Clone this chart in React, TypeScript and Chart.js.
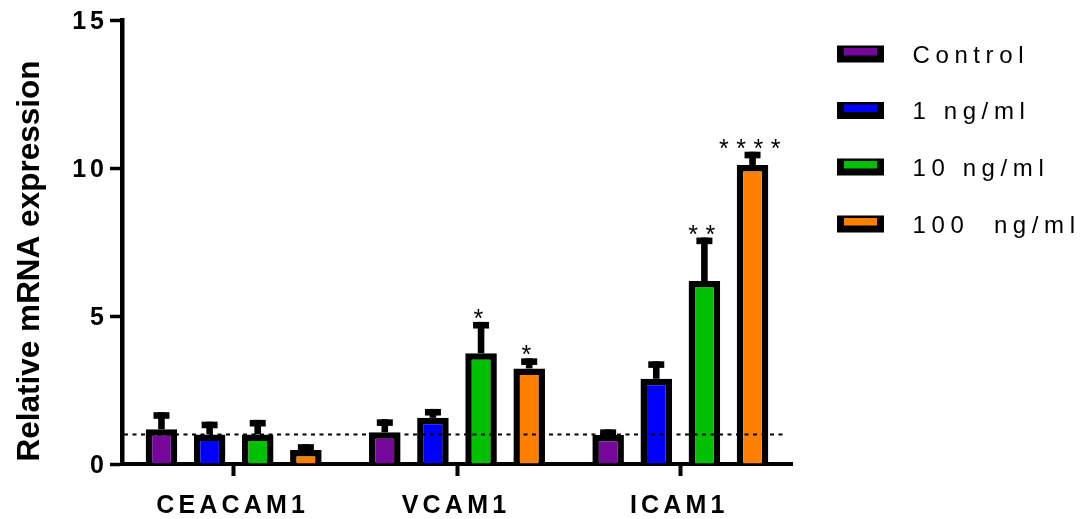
import React, { useEffect, useRef } from "react";
import { Chart, registerables } from "chart.js";

Chart.register(...registerables);

// ---- data ----
const categories = ["CEACAM1", "VCAM1", "ICAM1"];
const seriesNames = ["Control", "1 ng/ml", "10 ng/ml", "100  ng/ml"];
const seriesColors = ["#75079A", "#0000FF", "#00C000", "#FF8000"];

const controlValues = [1.17, 1.07, 0.98];
const ng1Values = [1.0, 1.56, 2.88];
const ng10Values = [1.0, 3.74, 6.18];
const ng100Values = [0.47, 3.23, 10.1];

const controlErrors = [0.58, 0.44, 0.19];
const ng1Errors = [0.43, 0.3, 0.59];
const ng10Errors = [0.49, 1.06, 1.47];
const ng100Errors = [0.2, 0.34, 0.45];

const controlStars = ["", "", ""];
const ng1Stars = ["", "", ""];
const ng10Stars = ["", "*", "**"];
const ng100Stars = ["", "*", "****"];

const yMin = 0;
const yMax = 15;
const yStep = 5;
const referenceLevel = 1;
const yTitle = "Relative mRNA expression";

const seriesValues = [controlValues, ng1Values, ng10Values, ng100Values];
const seriesErrors = [controlErrors, ng1Errors, ng10Errors, ng100Errors];
const seriesStars = [controlStars, ng1Stars, ng10Stars, ng100Stars];

const FONT = '"Liberation Sans", Arial, sans-serif';

const overlayPlugin = {
  id: "overlay",
  afterDatasetsDraw(chart: any) {
    const ctx = chart.ctx as CanvasRenderingContext2D;
    const yScale = chart.scales.y;
    const area = chart.chartArea;
    // error bars
    ctx.save();
    ctx.fillStyle = "#000";
    seriesValues.forEach((vals, i) => {
      const meta = chart.getDatasetMeta(i);
      vals.forEach((v, j) => {
        const bar = meta.data[j];
        if (!bar) return;
        const top = yScale.getPixelForValue(v + seriesErrors[i][j]);
        const barTop = bar.y;
        ctx.fillRect(bar.x - 3.3, top, 6.6, Math.max(0, barTop - top));
        ctx.fillRect(bar.x - 8, top, 16, 6.6);
      });
    });
    ctx.restore();

    // dotted reference line
    ctx.save();
    const yRef = yScale.getPixelForValue(referenceLevel);
    ctx.strokeStyle = "#000";
    ctx.lineWidth = 2;
    ctx.setLineDash([4, 4.5]);
    ctx.beginPath();
    ctx.moveTo(area.left + 2, yRef);
    ctx.lineTo(area.right - 5, yRef);
    ctx.stroke();
    ctx.restore();

    // significance stars
    ctx.save();
    ctx.fillStyle = "#000";
    ctx.font = `25px ${FONT}`;
    (ctx as any).letterSpacing = "7.5px";
    ctx.textAlign = "center";
    ctx.textBaseline = "alphabetic";
    seriesStars.forEach((stars, i) => {
      const meta = chart.getDatasetMeta(i);
      stars.forEach((s, j) => {
        if (!s) return;
        const bar = meta.data[j];
        const capTop = yScale.getPixelForValue(seriesValues[i][j] + seriesErrors[i][j]);
        const m = ctx.measureText(s);
        const baseline = capTop - 3 - m.actualBoundingBoxDescent;
        ctx.fillText(s, bar.x + 1, baseline);
      });
    });
    ctx.restore();
  },
  afterDraw(chart: any) {
    const ctx = chart.ctx as CanvasRenderingContext2D;
    const xScale = chart.scales.x;
    const yScale = chart.scales.y;
    const area = chart.chartArea;

    // y tick labels (from the scale's own ticks)
    ctx.save();
    ctx.fillStyle = "#000";
    ctx.font = `bold 25px ${FONT}`;
    const ls = 4;
    (ctx as any).letterSpacing = `${ls}px`;
    ctx.textAlign = "left";
    ctx.textBaseline = "alphabetic";
    yScale.ticks.forEach((t: any) => {
      const label = String(t.value);
      const y = yScale.getPixelForValue(t.value);
      const w = ctx.measureText(label).width - ls;
      ctx.fillText(label, 104 - w, y + 9);
    });
    ctx.restore();

    // x category labels
    ctx.save();
    ctx.fillStyle = "#000";
    ctx.font = `bold 25px ${FONT}`;
    (ctx as any).letterSpacing = "4.2px";
    ctx.textAlign = "center";
    ctx.textBaseline = "alphabetic";
    categories.forEach((c, i) => {
      const x = xScale.getPixelForTick(i);
      ctx.fillText(c, x - 1, 513);
    });
    ctx.restore();

    // y title
    ctx.save();
    ctx.fillStyle = "#000";
    ctx.font = `bold 31.5px ${FONT}`;
    ctx.textAlign = "center";
    ctx.textBaseline = "alphabetic";
    ctx.translate(39, (area.top + area.bottom) / 2 + 19);
    ctx.rotate(-Math.PI / 2);
    ctx.fillText(yTitle, 0, 0);
    ctx.restore();

    // legend
    ctx.save();
    const rowCenters = [54, 110.5, 167, 224];
    const boxX = 837;
    const boxW = 47;
    const boxH = 17;
    ctx.font = `24px ${FONT}`;
    (ctx as any).letterSpacing = "5.6px";
    ctx.textAlign = "left";
    ctx.textBaseline = "alphabetic";
    seriesNames.forEach((name, i) => {
      const cy = rowCenters[i];
      const by = cy - boxH / 2;
      ctx.fillStyle = "#000";
      ctx.fillRect(boxX, by, boxW, boxH);
      ctx.fillStyle = seriesColors[i];
      ctx.fillRect(boxX + 7, by + 2.5, boxW - 14, boxH - 9.5);
      ctx.fillStyle = "#000";
      ctx.fillText(name, 912.5, cy + 8.5);
    });
    ctx.restore();
  },
};

export default function App() {
  const canvasRef = useRef<HTMLCanvasElement | null>(null);

  useEffect(() => {
    const canvas = canvasRef.current;
    if (!canvas) return;
    const chart = new Chart(canvas, {
      type: "bar",
      data: {
        labels: categories,
        datasets: seriesNames.map((name, i) => ({
          label: name,
          data: seriesValues[i],
          backgroundColor: seriesColors[i],
          borderColor: "#000",
          borderWidth: 6.5,
          borderSkipped: "start",
          categoryPercentage: 0.862,
          barPercentage: 0.656,
        })),
      },
      options: {
        responsive: false,
        animation: false,
        events: [],
        layout: { padding: { left: 0, top: 20, right: 291, bottom: 0 } },
        plugins: {
          legend: { display: false },
          tooltip: { enabled: false },
          title: { display: false },
        },
        scales: {
          x: {
            type: "category",
            offset: true,
            afterFit: (scale: any) => {
              scale.height = 55;
            },
            grid: {
              offset: false,
              drawOnChartArea: false,
              drawTicks: true,
              tickLength: 12,
              tickWidth: 4,
              tickColor: "#000",
            },
            border: { display: true, color: "#000", width: 4 },
            ticks: { display: false },
          },
          y: {
            min: yMin,
            max: yMax,
            afterFit: (scale: any) => {
              scale.width = 122;
            },
            grid: {
              drawOnChartArea: false,
              drawTicks: true,
              tickLength: 12,
              tickWidth: 3.5,
              tickColor: "#000",
            },
            border: { display: true, color: "#000", width: 4.5 },
            ticks: {
              stepSize: yStep,
              display: false,
            },
          },
        },
      },
      plugins: [overlayPlugin],
    } as any);
    return () => chart.destroy();
  }, []);

  return (
    <div
      style={{
        position: "fixed",
        left: 0,
        top: 0,
        width: 1083,
        height: 519,
        background: "#fff",
      }}
    >
      <canvas ref={canvasRef} width={1083} height={519} style={{ display: "block" }} />
    </div>
  );
}
